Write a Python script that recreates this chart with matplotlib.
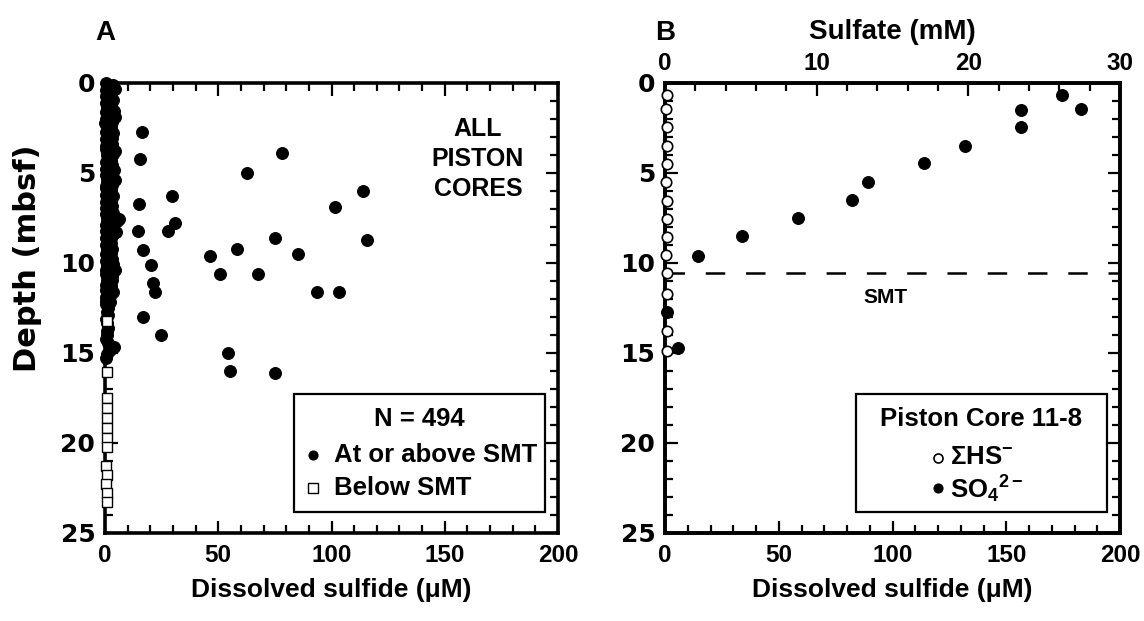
import matplotlib
matplotlib.use("Agg")
import matplotlib.pyplot as plt
from matplotlib.ticker import MultipleLocator
from matplotlib.patches import Rectangle

# ---------------- data ----------------
# Panel A: all piston cores, points at or above SMT (sulfide uM, depth mbsf)
scatter_sulfide = [16.3, 15.5, 29.6, 15.0, 30.9, 27.8, 14.6, 16.8, 20.3, 21.2, 22.1, 16.8,
                   58.3, 46.4, 50.8, 24.7, 54.5, 55.2, 75.0, 78.1, 62.7, 113.9, 101.5,
                   75.1, 115.7, 85.2, 67.5, 93.6, 103.3]
scatter_depth = [2.7, 4.2, 6.3, 6.7, 7.8, 8.2, 8.2, 9.3, 10.1, 11.1, 11.6, 13.0,
                 9.2, 9.6, 10.6, 14.0, 15.0, 16.0, 16.1, 3.9, 5.0, 6.0, 6.9,
                 8.6, 8.7, 9.5, 10.6, 11.6, 11.6]

core_depth_a = [0.0, 0.2, 0.4, 0.55, 0.7, 0.9, 1.1, 1.3, 1.45, 1.6, 1.8, 2.0, 2.2, 2.4, 2.55,
                2.7, 2.9, 3.1, 3.3, 3.5, 3.65, 3.8, 4.0, 4.2, 4.4, 4.6, 4.75, 4.9, 5.1, 5.3,
                5.5, 5.7, 5.85, 6.0, 6.2, 6.4, 6.6, 6.8, 6.95, 7.1, 7.3, 7.5, 7.7, 7.9, 8.05,
                8.2, 8.4, 8.6, 8.8, 9.0, 9.15, 9.3, 9.5, 9.7, 9.9, 10.1, 10.25, 10.4, 10.6,
                10.8, 11.0, 11.2, 11.35, 11.5, 11.7, 11.9, 12.1, 12.3]
core_sulfide_a = [0.5, 0.8, 0.3, 1.2, 0.6, 0.9, 0.4, 1.1, 0.7, 0.3, 1.0, 0.6, 0.2, 0.9, 1.3,
                  0.5, 0.8, 0.4, 1.1, 0.6, 0.3, 0.9, 0.7, 1.2, 0.4, 0.8, 0.5, 1.0, 0.3, 0.7,
                  1.1, 0.6, 0.4, 0.9, 0.5, 1.2, 0.3, 0.8, 0.6, 1.0, 0.4, 0.7, 1.1, 0.5, 0.9,
                  0.3, 0.8, 0.6, 1.2, 0.4, 0.7, 1.0, 0.5, 0.9, 0.3, 0.8, 1.1, 0.6, 0.4,
                  0.9, 0.7, 0.5, 1.0, 0.3, 0.8, 0.6, 0.5, 0.4]

core_depth_b = [0.1, 0.35, 0.65, 0.95, 1.25, 1.55, 1.9, 2.15, 2.45, 2.8, 3.05, 3.4, 3.75,
                3.95, 4.3, 4.55, 4.85, 5.2, 5.4, 5.65, 5.95, 6.3, 6.55, 6.85, 7.2, 7.55,
                7.65, 7.95, 8.3, 8.5, 8.9, 9.2, 9.45, 9.8, 10.05, 10.4, 10.7, 10.95, 11.3,
                11.6, 11.85, 12.15]
core_sulfide_b = [3.5, 4.4, 2.8, 3.6, 2.5, 3.9, 4.2, 3.0, 2.6, 3.4, 2.9, 3.2, 4.4,
                  3.5, 2.7, 3.0, 3.8, 2.6, 4.6, 3.3, 2.8, 3.5, 2.7, 3.1, 3.6, 6.0,
                  5.3, 3.4, 5.0, 3.0, 2.8, 3.3, 2.6, 3.0, 3.7, 4.5, 2.9, 3.2, 2.6,
                  3.5, 2.4, 2.0]

low_depth = [12.5, 12.7, 12.9, 13.1, 13.35, 13.6, 13.8, 14.0, 14.2, 14.45, 14.65, 14.85, 15.05, 15.3]
low_sulfide = [1.2, 0.8, 1.5, 0.6, 1.0, 1.4, 0.7, 1.1, 0.5, 1.3, 4.0, 2.0, 0.8, 0.6]

# Panel A: below SMT
below_depth = [13.2, 16.05, 17.5, 18.05, 18.6, 19.15, 19.7, 20.2, 21.3, 21.8, 22.3, 22.8, 23.3]
below_sulfide = [1.0, 0.9, 0.8, 1.0, 0.9, 1.1, 0.8, 1.0, 0.6, 0.9, 0.5, 0.7, 0.9]

# Panel B: piston core 11-8
hs_depth = [0.67, 1.44, 2.44, 3.5, 4.5, 5.5, 6.55, 7.55, 8.55, 9.55, 10.55, 11.7, 13.8, 14.9]
hs_sulfide = [0.8, 0.6, 0.9, 0.7, 0.8, 0.6, 0.9, 0.7, 0.8, 0.6, 0.9, 0.8, 0.7, 0.9]
so4_depth = [0.67, 1.44, 1.5, 2.44, 3.5, 4.44, 5.5, 6.5, 7.5, 8.5, 9.6, 12.7, 14.7]
so4_mM = [26.2, 27.4, 23.5, 23.5, 19.8, 17.1, 13.4, 12.3, 8.8, 5.1, 2.2, 0.13, 0.86]
smt_depth = 10.55

x_ticks = [0, 50, 100, 150, 200]
y_ticks = [0, 5, 10, 15, 20, 25]
sulfate_ticks = [0, 10, 20, 30]

# ---------------- style ----------------
plt.rcParams["font.family"] = ["Liberation Sans", "DejaVu Sans"]
plt.rcParams["font.weight"] = "bold"
plt.rcParams["axes.labelweight"] = "bold"
plt.rcParams["mathtext.fontset"] = "custom"
plt.rcParams["mathtext.rm"] = "Liberation Sans:bold"
plt.rcParams["mathtext.bf"] = "Liberation Sans:bold"
plt.rcParams["mathtext.it"] = "Liberation Sans:bold"
plt.rcParams["lines.scale_dashes"] = False

XTICK_FS = 17.5
YTICK_FS = 18
XLABEL_FS = 19
YLABEL_FS = 22
LEG_FS = 18.5
WIDE = "DejaVu Sans"

filled = dict(marker="o", ms=8.5, mfc="black", mec="black", mew=0.8, ls="none")
square = dict(marker="s", ms=7.5, mfc="white", mec="black", mew=1.0, ls="none")
opencirc = dict(marker="o", ms=7.5, mfc="white", mec="black", mew=1.2, ls="none")

fig = plt.figure(figsize=(11.44, 6.21), dpi=100)
W, H = 1144, 621
axA = fig.add_axes([105 / W, 88 / H, 453 / W, 450 / H])
axB = fig.add_axes([665 / W, 88 / H, 455 / W, 450 / H])


def style_axis(ax, top=True):
    ax.set_xlim(0, 200)
    ax.set_ylim(25, 0)
    ax.set_xticks(x_ticks)
    ax.set_yticks(y_ticks)
    ax.xaxis.set_minor_locator(MultipleLocator(10))
    ax.yaxis.set_minor_locator(MultipleLocator(1))
    ax.tick_params(which="both", direction="in", top=top, right=True, width=1.6)
    ax.tick_params(which="major", length=9)
    ax.tick_params(which="minor", length=5.5)
    ax.tick_params(axis="x", pad=8, labelsize=XTICK_FS)
    ax.tick_params(axis="y", pad=7, labelsize=YTICK_FS)
    for lab in ax.get_yticklabels():
        lab.set_family(WIDE)
    for sp in ax.spines.values():
        sp.set_linewidth(2.6)
    ax.set_xlabel("Dissolved sulfide (\u03bcM)", fontsize=XLABEL_FS, labelpad=8)


# ---------------- panel A ----------------
style_axis(axA)
axA.plot(core_sulfide_a + core_sulfide_b + low_sulfide + scatter_sulfide,
         core_depth_a + core_depth_b + low_depth + scatter_depth,
         clip_on=False, zorder=3, **filled)
axA.plot(below_sulfide, below_depth, clip_on=False, zorder=4, **square)
axA.set_ylabel("Depth (mbsf)", fontsize=YLABEL_FS, family=WIDE)
axA.yaxis.set_label_coords(-0.139, 0.61)
axA.text(0.823, 0.831, "ALL\nPISTON\nCORES", transform=axA.transAxes, ha="center",
         va="center", fontsize=18, linespacing=1.3)
axA.text(0.0, 1.11, "A", transform=axA.transAxes, ha="center", va="center", fontsize=20)

# legend A
axA.add_patch(Rectangle((0.417, 0.047), 0.554, 0.262, transform=axA.transAxes,
                        facecolor="white", edgecolor="black", lw=1.6, zorder=6))
axA.text(0.694, 0.253, "N = 494", transform=axA.transAxes, ha="center", va="center",
         fontsize=LEG_FS, zorder=7)
axA.plot([0.459], [0.173], transform=axA.transAxes, zorder=7, clip_on=False,
         **dict(filled, ms=6.5))
axA.text(0.506, 0.173, "At or above SMT", transform=axA.transAxes, ha="left",
         va="center", fontsize=LEG_FS, zorder=7)
axA.plot([0.459], [0.100], transform=axA.transAxes, zorder=7, clip_on=False,
         **dict(square, ms=6.5))
axA.text(0.506, 0.100, "Below SMT", transform=axA.transAxes, ha="left",
         va="center", fontsize=LEG_FS, zorder=7)

# ---------------- panel B ----------------
style_axis(axB, top=False)
axT = axB.twiny()
axT.set_xlim(0, 30)
axT.set_xticks(sulfate_ticks)
axT.xaxis.set_minor_locator(MultipleLocator(2))
axT.tick_params(which="both", direction="in", width=1.6, labelsize=XTICK_FS, pad=6)
axT.tick_params(which="major", length=9)
axT.tick_params(which="minor", length=5.5)
for sp in axT.spines.values():
    sp.set_linewidth(2.6)
axT.set_xlabel("Sulfate (mM)", fontsize=20, labelpad=9)
axT.plot(so4_mM, so4_depth, clip_on=False, zorder=3, **filled)
axT.set_ylim(25, 0)

axB.set_zorder(axT.get_zorder() + 1)
axB.patch.set_visible(False)
axB.plot(hs_sulfide, hs_depth, clip_on=False, zorder=4, **opencirc)
axB.axhline(smt_depth, color="black", lw=1.8, dashes=(14, 15), zorder=2)
axB.text(97, smt_depth + 1.35, "SMT", ha="center", va="center", fontsize=15)
axB.text(0.0, 1.11, "B", transform=axB.transAxes, ha="center", va="center", fontsize=20)

# legend B
axB.add_patch(Rectangle((0.42, 0.047), 0.551, 0.262, transform=axB.transAxes,
                        facecolor="white", edgecolor="black", lw=1.6, zorder=6))
axB.text(0.6945, 0.253, "Piston Core 11-8", transform=axB.transAxes, ha="center",
         va="center", fontsize=LEG_FS, zorder=7)
axB.plot([0.600], [0.166], transform=axB.transAxes, zorder=7, clip_on=False,
         **dict(opencirc, ms=6.5))
axB.text(0.627, 0.170, "\u03a3HS$^{-}$", transform=axB.transAxes, ha="left",
         va="center", fontsize=LEG_FS, zorder=7)
axB.plot([0.600], [0.100], transform=axB.transAxes, zorder=7, clip_on=False,
         **dict(filled, ms=6.5))
axB.text(0.627, 0.097, "SO$_4$$^{2-}$", transform=axB.transAxes, ha="left",
         va="center", fontsize=LEG_FS, zorder=7)

fig.savefig("out.png", dpi=100)
